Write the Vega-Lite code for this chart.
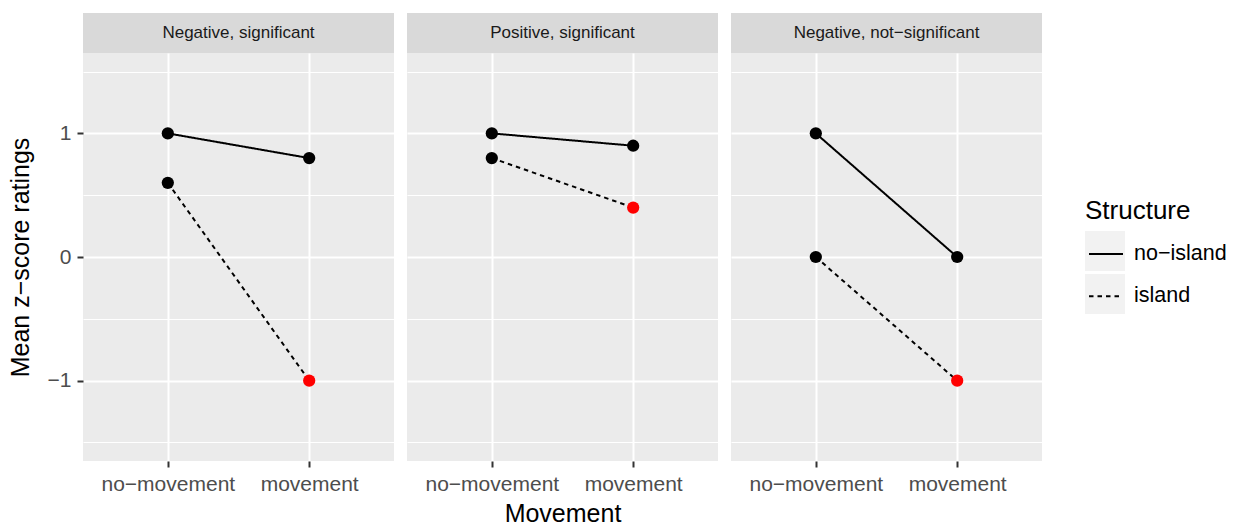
{
  "$schema": "https://vega.github.io/schema/vega-lite/v6.json",
  "background": "white",
  "padding": {"left": 8, "top": 13, "right": 5, "bottom": 2},
  "datasets": {
    "ratings": [
      {"Panel": "Negative, significant", "Movement": "no−movement", "Structure": "no−island", "Rating": 1.0},
      {"Panel": "Negative, significant", "Movement": "movement", "Structure": "no−island", "Rating": 0.8},
      {"Panel": "Negative, significant", "Movement": "no−movement", "Structure": "island", "Rating": 0.6},
      {"Panel": "Negative, significant", "Movement": "movement", "Structure": "island", "Rating": -1.0},
      {"Panel": "Positive, significant", "Movement": "no−movement", "Structure": "no−island", "Rating": 1.0},
      {"Panel": "Positive, significant", "Movement": "movement", "Structure": "no−island", "Rating": 0.9},
      {"Panel": "Positive, significant", "Movement": "no−movement", "Structure": "island", "Rating": 0.8},
      {"Panel": "Positive, significant", "Movement": "movement", "Structure": "island", "Rating": 0.4},
      {"Panel": "Negative, not−significant", "Movement": "no−movement", "Structure": "no−island", "Rating": 1.0},
      {"Panel": "Negative, not−significant", "Movement": "movement", "Structure": "no−island", "Rating": 0.0},
      {"Panel": "Negative, not−significant", "Movement": "no−movement", "Structure": "island", "Rating": 0.0},
      {"Panel": "Negative, not−significant", "Movement": "movement", "Structure": "island", "Rating": -1.0}
    ],
    "panels": [
      {"Panel": "Negative, significant"},
      {"Panel": "Positive, significant"},
      {"Panel": "Negative, not−significant"}
    ]
  },
  "config": {
    "font": "Liberation Sans",
    "view": {"stroke": null},
    "axis": {
      "domain": false,
      "gridColor": "white",
      "tickColor": "#333333",
      "tickSize": 6,
      "tickWidth": 2,
      "labelColor": "#4D4D4D",
      "labelFontSize": 21,
      "titleFontSize": 25,
      "titleFontWeight": "normal",
      "titleColor": "black"
    },
    "legend": {
      "titleFontSize": 26,
      "titleFontWeight": "normal",
      "titleColor": "black",
      "labelFontSize": 21.5,
      "labelColor": "black"
    }
  },
  "spacing": 13,
  "hconcat": [
    {
      "spacing": 0,
      "vconcat": [
        {
          "width": 311,
          "height": 40,
          "view": {"fill": "#D9D9D9", "stroke": null},
          "data": {"name": "panels"},
          "transform": [{"filter": "datum.Panel === 'Negative, significant'"}],
          "mark": {"type": "text", "fontSize": 17, "color": "#1A1A1A"},
          "encoding": {"text": {"field": "Panel", "type": "nominal"}}
        },
        {
          "width": 311,
          "height": 408,
          "view": {"fill": "#EBEBEB", "stroke": null},
          "data": {"name": "ratings"},
          "transform": [{"filter": "datum.Panel === 'Negative, significant'"}],
          "encoding": {
            "x": {
              "field": "Movement",
              "type": "nominal",
              "sort": ["no−movement", "movement"],
              "scale": {"type": "point", "padding": 0.6},
              "axis": {"title": null, "grid": true, "gridWidth": 2, "labelAngle": 0, "labelPadding": 6}
            }
          },
          "layer": [
            {
              "description": "Legend key backgrounds only: no rows are drawn here.",
              "transform": [{"filter": "false"}],
              "mark": {"type": "square", "filled": true, "color": "#F2F2F2"},
              "encoding": {
                "opacity": {
                  "field": "Movement",
                  "type": "ordinal",
                  "scale": {"domain": ["no−movement", "movement"], "range": [1, 1]},
                  "legend": {
                    "title": null, "orient": "none", "legendX": 1002, "legendY": 218, "zindex": 0,
                    "symbolType": "square", "symbolSize": 1600, "symbolStrokeWidth": 0,
                    "rowPadding": 3, "symbolOffset": 0, "labelExpr": "''"
                  }
                }
              }
            },
            {
              "mark": {"type": "line", "color": "black", "strokeWidth": 2},
              "encoding": {
                "y": {
                  "field": "Rating",
                  "type": "quantitative",
                  "scale": {"domain": [-1.65, 1.65], "nice": false, "zero": false},
                  "axis": {"values": [-1, 0, 1], "grid": true, "gridWidth": 2, "title": "Mean z−score ratings", "labelPadding": 6, "titlePadding": 14}
                },
                "strokeDash": {
                  "field": "Structure",
                  "type": "nominal",
                  "scale": {"domain": ["no−island", "island"], "range": [[1, 0], [4.5, 4]]},
                  "legend": {
                    "title": "Structure", "orient": "none", "legendX": 1002, "legendY": 185, "zindex": 2,
                    "symbolType": "stroke", "symbolSize": 1156, "symbolStrokeColor": "black", "symbolStrokeWidth": 2,
                    "symbolOffset": 3, "labelOffset": 10, "rowPadding": 13.3, "titlePadding": 12
                  }
                }
              }
            },
            {
              "mark": {"type": "circle", "size": 150, "opacity": 1},
              "encoding": {
                "y": {
                  "field": "Rating",
                  "type": "quantitative",
                  "axis": {"values": [-1.5, -0.5, 0.5, 1.5], "orient": "left", "grid": true, "gridWidth": 1, "labels": false, "ticks": false, "title": null}
                },
                "color": {
                  "condition": {"test": "datum.Structure === 'island' && datum.Movement === 'movement'", "value": "#FF0000"},
                  "value": "black"
                }
              }
            }
          ],
          "resolve": {"axis": {"y": "independent"}}
        }
      ]
    },
    {
      "spacing": 0,
      "vconcat": [
        {
          "width": 311,
          "height": 40,
          "view": {"fill": "#D9D9D9", "stroke": null},
          "data": {"name": "panels"},
          "transform": [{"filter": "datum.Panel === 'Positive, significant'"}],
          "mark": {"type": "text", "fontSize": 17, "color": "#1A1A1A"},
          "encoding": {"text": {"field": "Panel", "type": "nominal"}}
        },
        {
          "width": 311,
          "height": 408,
          "view": {"fill": "#EBEBEB", "stroke": null},
          "data": {"name": "ratings"},
          "transform": [{"filter": "datum.Panel === 'Positive, significant'"}],
          "encoding": {
            "x": {
              "field": "Movement",
              "type": "nominal",
              "sort": ["no−movement", "movement"],
              "scale": {"type": "point", "padding": 0.6},
              "axis": {"title": "Movement", "grid": true, "gridWidth": 2, "labelAngle": 0, "labelPadding": 6, "titlePadding": 7}
            }
          },
          "layer": [
            {
              "mark": {"type": "line", "color": "black", "strokeWidth": 2},
              "encoding": {
                "y": {
                  "field": "Rating",
                  "type": "quantitative",
                  "scale": {"domain": [-1.65, 1.65], "nice": false, "zero": false},
                  "axis": {"values": [-1, 0, 1], "grid": true, "gridWidth": 2, "labels": false, "ticks": false, "title": null}
                },
                "strokeDash": {
                  "field": "Structure",
                  "type": "nominal",
                  "scale": {"domain": ["no−island", "island"], "range": [[1, 0], [4.5, 4]]}
                }
              }
            },
            {
              "mark": {"type": "circle", "size": 150, "opacity": 1},
              "encoding": {
                "y": {
                  "field": "Rating",
                  "type": "quantitative",
                  "axis": {"values": [-1.5, -0.5, 0.5, 1.5], "orient": "left", "grid": true, "gridWidth": 1, "labels": false, "ticks": false, "title": null}
                },
                "color": {
                  "condition": {"test": "datum.Structure === 'island' && datum.Movement === 'movement'", "value": "#FF0000"},
                  "value": "black"
                }
              }
            }
          ],
          "resolve": {"axis": {"y": "independent"}}
        }
      ]
    },
    {
      "spacing": 0,
      "vconcat": [
        {
          "width": 311,
          "height": 40,
          "view": {"fill": "#D9D9D9", "stroke": null},
          "data": {"name": "panels"},
          "transform": [{"filter": "datum.Panel === 'Negative, not−significant'"}],
          "mark": {"type": "text", "fontSize": 17, "color": "#1A1A1A"},
          "encoding": {"text": {"field": "Panel", "type": "nominal"}}
        },
        {
          "width": 311,
          "height": 408,
          "view": {"fill": "#EBEBEB", "stroke": null},
          "data": {"name": "ratings"},
          "transform": [{"filter": "datum.Panel === 'Negative, not−significant'"}],
          "encoding": {
            "x": {
              "field": "Movement",
              "type": "nominal",
              "sort": ["no−movement", "movement"],
              "scale": {"type": "point", "padding": 0.6},
              "axis": {"title": null, "grid": true, "gridWidth": 2, "labelAngle": 0, "labelPadding": 6}
            }
          },
          "layer": [
            {
              "mark": {"type": "line", "color": "black", "strokeWidth": 2},
              "encoding": {
                "y": {
                  "field": "Rating",
                  "type": "quantitative",
                  "scale": {"domain": [-1.65, 1.65], "nice": false, "zero": false},
                  "axis": {"values": [-1, 0, 1], "grid": true, "gridWidth": 2, "labels": false, "ticks": false, "title": null}
                },
                "strokeDash": {
                  "field": "Structure",
                  "type": "nominal",
                  "scale": {"domain": ["no−island", "island"], "range": [[1, 0], [4.5, 4]]}
                }
              }
            },
            {
              "mark": {"type": "circle", "size": 150, "opacity": 1},
              "encoding": {
                "y": {
                  "field": "Rating",
                  "type": "quantitative",
                  "axis": {"values": [-1.5, -0.5, 0.5, 1.5], "orient": "left", "grid": true, "gridWidth": 1, "labels": false, "ticks": false, "title": null}
                },
                "color": {
                  "condition": {"test": "datum.Structure === 'island' && datum.Movement === 'movement'", "value": "#FF0000"},
                  "value": "black"
                }
              }
            }
          ],
          "resolve": {"axis": {"y": "independent"}}
        }
      ]
    }
  ]
}
